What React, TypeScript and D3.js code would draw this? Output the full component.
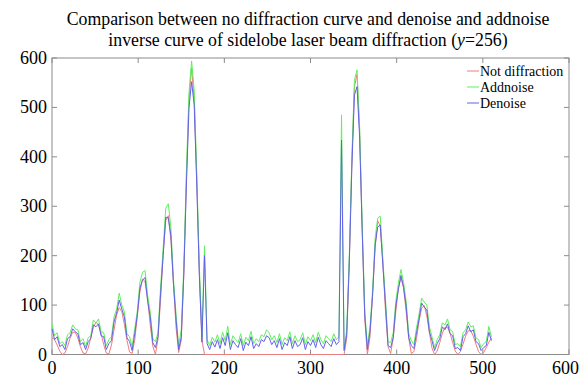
import React from "react";
import * as d3 from "d3";

// sample positions (pixel index along the row, every 3rd column)
const xIndex: number[] = d3.range(0, 511, 3);

const notDiffraction: number[] = [
  34, 30, 19, 7, 0, 3, 16, 33, 45, 45, 33, 16, 3, 1, 13, 34, 55, 65, 60, 42,
  20, 3, 1, 19, 50, 80, 95, 87, 61, 29, 5, 2, 29, 78, 126, 153, 147, 111, 60, 17,
  0, 31, 111, 204, 271, 281, 231, 143, 54, 4, 29, 164, 355, 517, 580, 517, 355, 164, 29, 0,
  0, 0, 0, 0, 0, 0, 0, 0, 0, 0, 0, 0, 0, 0, 0, 0, 0, 0, 0, 0,
  0, 0, 0, 0, 0, 0, 0, 0, 0, 0, 0, 0, 0, 0, 0, 0, 0, 0, 0, 0,
  0, 0, 0, 0, 0, 0, 0, 0, 0, 0, 0, 0, 0, 0, 33, 186, 389, 542, 567, 451,
  253, 72, 0, 35, 121, 216, 271, 259, 186, 89, 16, 2, 33, 87, 135, 155, 135, 87, 33, 2,
  6, 32, 68, 94, 99, 78, 44, 13, 0, 7, 24, 43, 55, 55, 43, 24, 7, 0, 6, 21,
  37, 48, 48, 37, 21, 6, 0, 4, 14, 25, 33,
];

const addnoise: number[] = [
  62, 38, 44, 22, 26, 18, 40, 44, 60, 52, 50, 26, 32, 16, 34, 38, 70, 64, 72, 46,
  44, 18, 30, 36, 76, 92, 124, 100, 86, 42, 36, 16, 52, 88, 146, 166, 170, 120, 86, 32,
  26, 44, 136, 215, 296, 305, 256, 152, 80, 18, 50, 180, 372, 530, 594, 535, 368, 178, 35, 220,
  30, 18, 35, 25, 40, 22, 45, 28, 57, 20, 38, 30, 24, 42, 18, 35, 28, 47, 22, 32,
  26, 40, 36, 50, 44, 30, 38, 24, 42, 20, 34, 28, 46, 22, 38, 26, 30, 44, 20, 36,
  28, 40, 24, 45, 30, 22, 38, 32, 26, 42, 30, 36, 485, 12, 50, 200, 400, 555, 576, 460,
  265, 88, 18, 56, 128, 236, 276, 280, 192, 112, 26, 24, 44, 108, 144, 172, 146, 108, 42, 28,
  20, 54, 82, 114, 106, 100, 56, 36, 14, 30, 40, 64, 60, 72, 50, 46, 20, 22, 16, 44,
  50, 66, 56, 58, 34, 30, 14, 22, 26, 57, 35,
];

const denoise: number[] = [
  52, 30, 36, 16, 20, 10, 32, 36, 52, 46, 42, 20, 24, 10, 26, 32, 60, 56, 62, 38,
  36, 10, 22, 28, 66, 84, 110, 92, 76, 34, 26, 8, 42, 80, 134, 150, 156, 108, 76, 24,
  14, 36, 124, 200, 278, 276, 240, 142, 70, 10, 35, 165, 345, 500, 552, 505, 345, 160, 25, 200,
  22, 10, 26, 15, 30, 12, 34, 18, 44, 10, 28, 20, 14, 32, 8, 25, 18, 36, 12, 22,
  16, 30, 26, 38, 34, 20, 28, 14, 32, 10, 24, 18, 36, 12, 28, 16, 20, 34, 10, 26,
  18, 30, 14, 35, 20, 12, 28, 22, 16, 32, 20, 26, 434, 8, 40, 185, 380, 525, 542, 440,
  250, 78, 10, 46, 118, 222, 258, 262, 180, 102, 18, 14, 34, 98, 132, 160, 136, 98, 34, 18,
  12, 44, 72, 104, 96, 90, 46, 28, 8, 22, 32, 56, 50, 62, 42, 38, 12, 14, 8, 36,
  42, 58, 46, 50, 26, 22, 8, 14, 18, 45, 28,
];

const xTicks: number[] = [0, 100, 200, 300, 400, 500, 600];
const yTicks: number[] = [0, 100, 200, 300, 400, 500, 600];

const seriesNames: string[] = ["Not diffraction", "Addnoise", "Denoise"];
const seriesColors: string[] = ["#f07c7c", "#5ef05e", "#6262ea"];

const FF = "Times New Roman";

function T(props: any) {
  const { children, ...rest } = props;
  return (
    <text fontFamily={FF} fill="#000" style={{ fontFamily: FF }} {...rest}>
      {children}
    </text>
  );
}

export default function App() {
  const W = 581;
  const H = 376;
  const left = 52;
  const right = 569;
  const top = 58;
  const bottom = 354.5;
  const x = d3.scaleLinear().domain([0, 600]).range([left, right]);
  const y = d3.scaleLinear().domain([0, 600]).range([bottom, top]);
  const line = d3
    .line<number>()
    .x((_, i) => x(xIndex[i]))
    .y((d) => y(d));
  const series = [notDiffraction, addnoise, denoise];
  const axisColor = "#8c8c8c";
  const tl = 5;

  return (
    <svg width={W} height={H} style={{ position: "absolute", left: 0, top: 0, fontFamily: FF }} fontFamily={FF}>
      <rect x={0} y={0} width={W} height={H} fill="#fff" />
      <T x={308} y={25} fontSize={17.8} textAnchor="middle">
        Comparison between no diffraction curve and denoise and addnoise
      </T>
      <T x={308} y={46} fontSize={17.8} textAnchor="middle">
        inverse curve of sidelobe laser beam diffraction (<tspan fontStyle="italic">y</tspan>=256)
      </T>

      {/* frame */}
      <rect x={left} y={top} width={right - left} height={bottom - top} fill="none" stroke={axisColor} strokeWidth={1} />

      {/* ticks */}
      {xTicks.map((t, i) => (
        <g key={"xt" + t}>
          <line x1={x(t)} x2={x(t)} y1={bottom} y2={bottom - tl} stroke={axisColor} />
          <line x1={x(t)} x2={x(t)} y1={top} y2={top + tl} stroke={axisColor} />
          <T
            x={i === xTicks.length - 1 ? W - 2 : x(t)}
            y={bottom + 19}
            fontSize={18}
            textAnchor={i === xTicks.length - 1 ? "end" : "middle"}
          >
            {t}
          </T>
        </g>
      ))}
      {yTicks.map((t) => (
        <g key={"yt" + t}>
          <line x1={left} x2={left + tl} y1={y(t)} y2={y(t)} stroke={axisColor} />
          <line x1={right} x2={right - tl} y1={y(t)} y2={y(t)} stroke={axisColor} />
          <T x={left - 5} y={y(t) + 6} fontSize={18} textAnchor="end">
            {t}
          </T>
        </g>
      ))}

      {/* series */}
      {series.map((s, i) => (
        <path key={"s" + i} d={line(s) || ""} fill="none" stroke={seriesColors[i]} strokeWidth={1} />
      ))}

      {/* legend */}
      {seriesNames.map((n, i) => (
        <g key={"lg" + i}>
          <line x1={467} x2={479} y1={71 + i * 16} y2={71 + i * 16} stroke={seriesColors[i]} strokeWidth={1} />
          <T x={480} y={76 + i * 16} fontSize={14}>
            {n}
          </T>
        </g>
      ))}
    </svg>
  );
}
